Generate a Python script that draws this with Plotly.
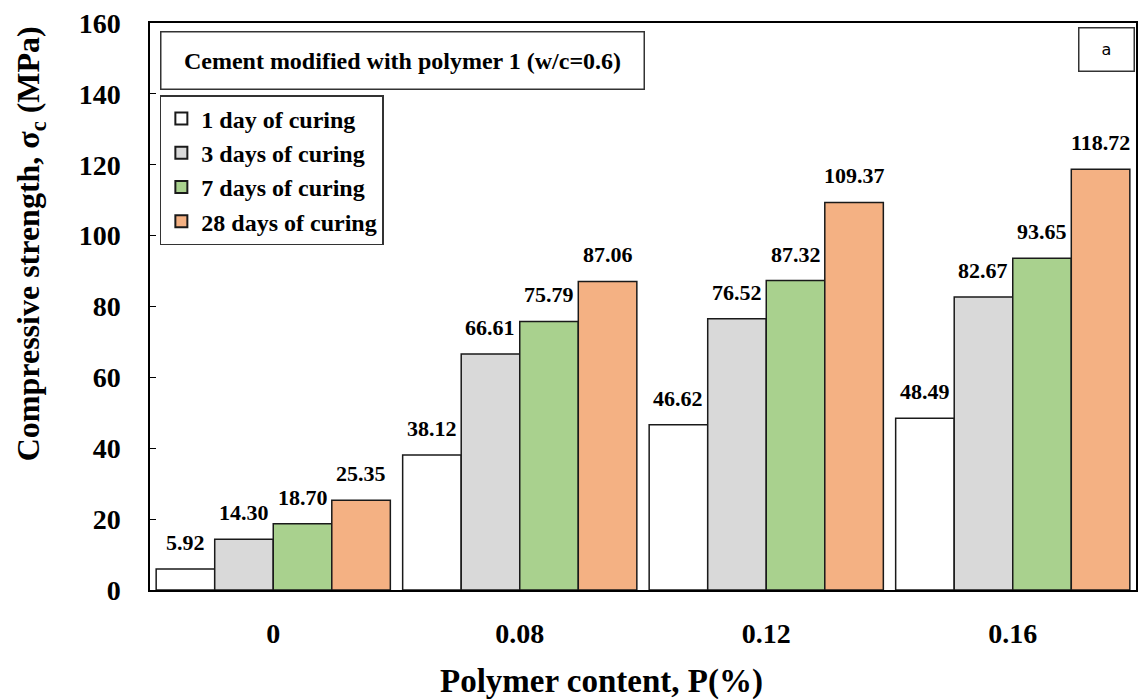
import plotly.graph_objects as go

categories = ["0", "0.08", "0.12", "0.16"]
day1 = [5.92, 38.12, 46.62, 48.49]
day3 = [14.30, 66.61, 76.52, 82.67]
day7 = [18.70, 75.79, 87.32, 93.65]
day28 = [25.35, 87.06, 109.37, 118.72]
series_names = ["1 day of curing", "3 days of curing", "7 days of curing", "28 days of curing"]
series_colors = ["#ffffff", "#d9d9d9", "#a9d18e", "#f4b183"]
all_series = [day1, day3, day7, day28]

FONT = "Liberation Serif"
W, H = 1144, 700
ML, MR, MT, MB = 150, 6, 23, 110
BARGAP = 0.05
plot_w = W - ML - MR
plot_h = H - MT - MB
bar_px = plot_w / len(categories) * (1 - BARGAP) / len(all_series)

fig = go.Figure()
for name, vals, col in zip(series_names, all_series, series_colors):
    fig.add_trace(go.Bar(
        x=categories, y=vals, name=name,
        marker=dict(color=col, line=dict(color="#1a1a1a", width=1.5)),
    ))

annotations = []
# value labels above each bar (x given as category index on the category axis)
for j, vals in enumerate(all_series):
    for i, v in enumerate(vals):
        annotations.append(dict(
            xref="x", yref="y", x=i, y=v, xanchor="center", yanchor="bottom",
            xshift=(j - (len(all_series) - 1) / 2) * bar_px, yshift=12,
            text=f"{v:.2f}", showarrow=False,
            font=dict(family=FONT, size=22, color="#000000", weight="bold"),
        ))

annotations += [
    dict(xref="paper", yref="paper", x=0.01, y=0.986, xanchor="left", yanchor="top",
         text="Cement modified with polymer 1 (w/c=0.6)", showarrow=False,
         font=dict(family=FONT, size=24, weight="bold", color="#000000"),
         bordercolor="#333333", borderwidth=1.5, borderpad=4, bgcolor="white",
         width=474, height=48, align="center"),
    dict(xref="paper", yref="paper", x=0.999, y=0.993, xanchor="right", yanchor="top",
         text="a", showarrow=False,
         font=dict(family="DejaVu Sans", size=16, color="#000000"),
         bordercolor="#333333", borderwidth=1.5, borderpad=4, bgcolor="white",
         width=46, height=34, align="center"),
    dict(xref="paper", yref="paper", x=(30 - ML) / plot_w, y=(H - MB - 244) / plot_h,
         xanchor="center", yanchor="middle", textangle=-90,
         text="Compressive strength, σ<sub>c</sub> (MPa)", showarrow=False,
         font=dict(family=FONT, size=32, weight="bold", color="#000000")),
    dict(xref="paper", yref="paper", x=(602 - ML) / plot_w, y=(H - MB - 681) / plot_h,
         xanchor="center", yanchor="middle",
         text="Polymer content, P(%)", showarrow=False,
         font=dict(family=FONT, size=33, weight="bold", color="#000000")),
]

fig.update_layout(
    width=W, height=H,
    margin=dict(l=ML, r=MR, t=MT, b=MB),
    paper_bgcolor="white", plot_bgcolor="white",
    barmode="group", bargap=BARGAP, bargroupgap=0,
    font=dict(family=FONT, color="#000000"),
    legend=dict(
        x=0.01, y=0.873, xanchor="left", yanchor="top",
        bordercolor="#333333", borderwidth=1.5, bgcolor="white",
        font=dict(family=FONT, size=24, color="#000000", weight="bold"),
        tracegroupgap=0, itemsizing="constant",
    ),
    xaxis=dict(
        showline=True, linecolor="#000000", linewidth=1.5, mirror=True,
        ticks="", ticklabelstandoff=18,
        tickfont=dict(family=FONT, size=28, weight="bold"),
    ),
    yaxis=dict(
        range=[0, 160], dtick=20, showgrid=False, zeroline=False,
        showline=True, linecolor="#000000", linewidth=1.5, mirror=True,
        ticks="inside", ticklen=6, tickcolor="#000000", ticklabelstandoff=22,
        tickfont=dict(family=FONT, size=28, weight="bold"),
    ),
    annotations=annotations,
)

fig.write_html("out.html")
